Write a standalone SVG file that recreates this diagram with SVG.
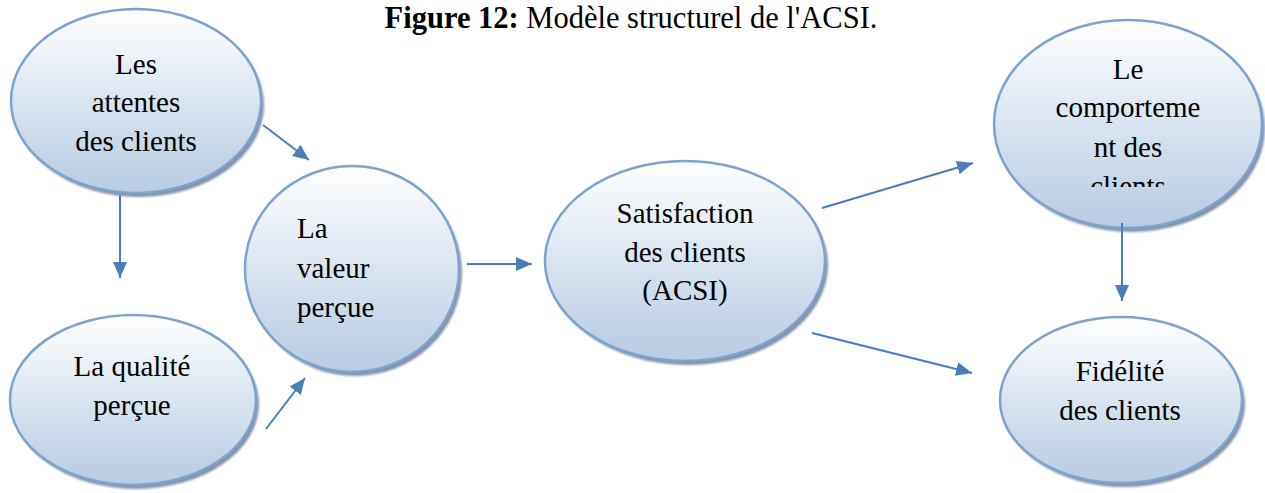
<svg xmlns="http://www.w3.org/2000/svg" width="1265" height="493" viewBox="0 0 1265 493">
  <defs>
    <linearGradient id="bubble" x1="0" y1="0" x2="0" y2="1">
      <stop offset="0" stop-color="#ffffff"/>
      <stop offset="0.45" stop-color="#dde7f2"/>
      <stop offset="1" stop-color="#b7cbe3"/>
    </linearGradient>
    <filter id="soft" x="-10%" y="-10%" width="120%" height="120%">
      <feGaussianBlur stdDeviation="1.2"/>
    </filter>
    <marker id="head" viewBox="0 0 16 14" refX="16" refY="7" markerWidth="16" markerHeight="14" markerUnits="userSpaceOnUse" orient="auto">
      <path d="M0,0 L16,7 L0,14 Z" fill="#4a7ebb"/>
    </marker>
    <clipPath id="clipBehav">
      <rect x="990" y="0" width="275" height="187"/>
    </clipPath>
  </defs>
  <style>
    .shadow { fill: #8592a6; filter: url(#soft); }
    .node { fill: url(#bubble); stroke: #7ea2cf; stroke-width: 2.5; }
    .lbl { font-family: "Liberation Serif", "Times New Roman", serif; font-size: 29px; fill: #000; }
    .mid { text-anchor: middle; }
    .title { font-family: "Liberation Serif", "Times New Roman", serif; font-size: 30.5px; fill: #000; text-anchor: middle; }
    .edge { stroke: #4a7ebb; stroke-width: 2; fill: none; marker-end: url(#head); }
  </style>

  <text class="title" x="631" y="28"><tspan font-weight="bold">Figure 12:</tspan> Modèle structurel de l'ACSI.</text>

  <g id="attentes">
    <ellipse class="shadow" cx="139" cy="105" rx="125" ry="92"/>
    <ellipse class="node" cx="136" cy="101" rx="125" ry="92"/>
    <text class="lbl mid" x="136" y="74">Les</text>
    <text class="lbl mid" x="136" y="112">attentes</text>
    <text class="lbl mid" x="136" y="151">des clients</text>
  </g>

  <g id="qualite">
    <ellipse class="shadow" cx="136" cy="404" rx="123" ry="85"/>
    <ellipse class="node" cx="133" cy="400" rx="123" ry="85"/>
    <text class="lbl mid" x="132" y="376">La qualité</text>
    <text class="lbl mid" x="132" y="415">perçue</text>
  </g>

  <g id="valeur">
    <ellipse class="shadow" cx="355" cy="273" rx="107" ry="103"/>
    <ellipse class="node" cx="352" cy="269" rx="107" ry="103"/>
    <text class="lbl" x="297" y="238">La</text>
    <text class="lbl" x="297" y="278">valeur</text>
    <text class="lbl" x="297" y="317">perçue</text>
  </g>

  <g id="satisfaction">
    <ellipse class="shadow" cx="688" cy="265" rx="140" ry="100"/>
    <ellipse class="node" cx="685" cy="261" rx="140" ry="100"/>
    <text class="lbl mid" x="685" y="223">Satisfaction</text>
    <text class="lbl mid" x="685" y="262">des clients</text>
    <text class="lbl mid" x="685" y="300">(ACSI)</text>
  </g>

  <g id="comportement">
    <ellipse class="shadow" cx="1131" cy="128" rx="134" ry="104"/>
    <ellipse class="node" cx="1128" cy="124" rx="134" ry="104"/>
    <g clip-path="url(#clipBehav)">
      <text class="lbl mid" x="1128" y="79">Le</text>
      <text class="lbl mid" x="1128" y="117">comporteme</text>
      <text class="lbl mid" x="1128" y="157">nt des</text>
      <text class="lbl mid" x="1128" y="196">clients</text>
    </g>
  </g>

  <g id="fidelite">
    <ellipse class="shadow" cx="1124" cy="404" rx="121" ry="83"/>
    <ellipse class="node" cx="1121" cy="400" rx="121" ry="83"/>
    <text class="lbl mid" x="1120" y="381">Fidélité</text>
    <text class="lbl mid" x="1120" y="420">des clients</text>
  </g>

  <g id="connectors">
    <line class="edge" x1="120" y1="195" x2="120" y2="278"/>
    <line class="edge" x1="263" y1="125" x2="309" y2="160"/>
    <line class="edge" x1="266" y1="429" x2="305" y2="378"/>
    <line class="edge" x1="467" y1="264" x2="532" y2="264"/>
    <line class="edge" x1="822" y1="208" x2="973" y2="163"/>
    <line class="edge" x1="812" y1="333" x2="972" y2="373"/>
    <line class="edge" x1="1122" y1="223" x2="1122" y2="301"/>
  </g>
</svg>
